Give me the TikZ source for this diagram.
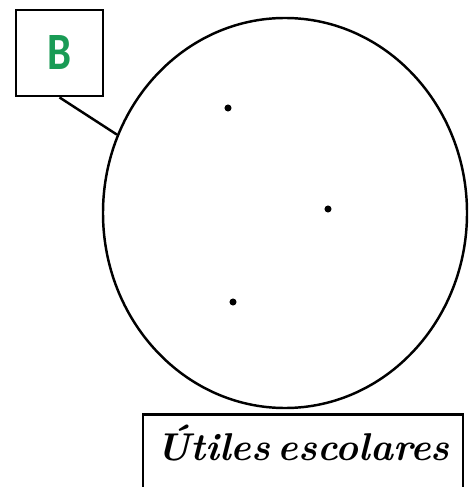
\documentclass[tikz,border=0pt]{standalone}
\usepackage{fontspec}
\usepackage{graphicx}
\usetikzlibrary{shapes.geometric,positioning}
\newfontfamily\tagfont{Carlito}
\definecolor{setgreen}{RGB}{25,155,85}

\begin{document}
\begin{tikzpicture}[x=0.03cm, y=-0.03cm]
\useasboundingbox (0,0) rectangle (468,487);
\clip (0,0) rectangle (468,487);

% Set outline
\node[draw, ellipse, line width=2.1pt, inner sep=0pt,
      minimum width=10.92cm, minimum height=11.7cm] (conj) at (285,213) {};

% Elements
\fill (228,108) circle (3pt);
\fill (328,209) circle (3pt);
\fill (233,302) circle (3pt);

% Name tag
\node[draw, line width=2.4pt, inner sep=0pt, minimum width=2.61cm, minimum height=2.58cm,
      font=\tagfont\bfseries, text=setgreen] (tag) at (59.5,53) {\resizebox{0.72cm}{1.02cm}{B}};
\draw[line width=2.1pt] (tag.south) -- (conj.155);

% Universe label
\node[draw, line width=2.4pt, inner xsep=0pt, inner ysep=0pt, minimum width=9.6cm,
      text height=1.38cm, text depth=1.3cm, anchor=north] (lab) at (303,413)
      {\resizebox{8.8cm}{!}{\bfseries\itshape Útiles\hspace{0.2em}escolares}};
\end{tikzpicture}
\end{document}
